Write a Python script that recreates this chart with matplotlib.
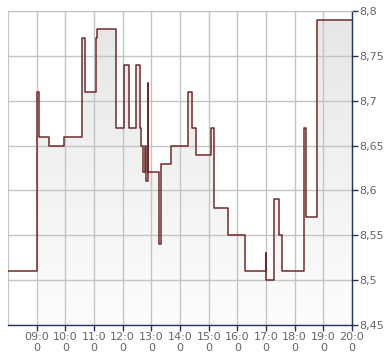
import numpy as np
import matplotlib
matplotlib.use("Agg")
import matplotlib.pyplot as plt
from matplotlib.patches import Polygon

# trade times (HH:MM) and prices, step chart
times = ["08:00", "09:01", "09:05", "09:26", "09:58", "10:35", "10:42", "11:04",
         "11:07", "11:47", "12:03", "12:13", "12:27", "12:37", "12:38", "12:43",
         "12:46", "12:49", "12:52", "12:53", "13:17", "13:21", "13:42", "14:16",
         "14:25", "14:34", "15:04", "15:12", "15:41", "16:16", "16:59", "17:00",
         "17:17", "17:27", "17:33", "18:20", "18:24", "18:47", "20:00"]
prices = [8.51, 8.71, 8.66, 8.65, 8.66, 8.77, 8.71, 8.77,
          8.78, 8.67, 8.74, 8.67, 8.74, 8.67, 8.65, 8.62,
          8.65, 8.61, 8.72, 8.62, 8.54, 8.63, 8.65, 8.71,
          8.67, 8.64, 8.67, 8.58, 8.55, 8.51, 8.53, 8.50,
          8.59, 8.55, 8.51, 8.67, 8.57, 8.79, 8.79]

x_ticks = list(range(9, 21))
x_labels = ["%02d:0\n0" % h for h in x_ticks]
y_ticks = [8.45, 8.5, 8.55, 8.6, 8.65, 8.7, 8.75, 8.8]
y_labels = ["8,45", "8,5", "8,55", "8,6", "8,65", "8,7", "8,75", "8,8"]

t = np.array([int(s[:2]) + int(s[3:]) / 60 for s in times])
p = np.array(prices)

fig = plt.figure(figsize=(3.9, 3.64), dpi=100)
ax = fig.add_axes([8 / 390, 39 / 364, 344 / 390, 314 / 364])
ax.set_xlim(8, 20)
ax.set_ylim(8.45, 8.8)

# step outline; shaded area starts at the first trade of the day
sx = np.repeat(t, 2)[1:]
sy = np.repeat(p, 2)[:-1]
fx, fy = sx[1:], sy[1:]
verts = np.column_stack([np.r_[fx, fx[-1], fx[0]], np.r_[fy, 8.45, 8.45]])
poly = Polygon(verts, closed=True, facecolor="none", edgecolor="none")
ax.add_patch(poly)
grad = np.linspace(1.0, 0.0, 256).reshape(-1, 1)
img = ax.imshow(grad, extent=[8, 20, 8.45, 8.8], aspect="auto", origin="upper",
                cmap=matplotlib.colors.LinearSegmentedColormap.from_list(
                    "g", ["#fdfdfd", "#e6e6e6"]), zorder=1)
img.set_clip_path(poly)

ax.plot(t, p, drawstyle="steps-post", color="#6e2a2a", lw=1.1, zorder=3)

ax.set_xticks(x_ticks)
ax.set_xticklabels(x_labels)
ax.set_yticks(y_ticks)
ax.set_yticklabels(y_labels)
ax.yaxis.tick_right()
ax.grid(True, color="#c4c4c4", lw=1.0)
for gl in ax.get_xgridlines() + ax.get_ygridlines():
    gl.set_zorder(2)

for side in ["top", "left"]:
    ax.spines[side].set_color("#c4c4c4")
for side in ["right", "bottom"]:
    ax.spines[side].set_color("#1f3560")
    ax.spines[side].set_linewidth(1.0)
ax.tick_params(axis="both", colors="#1f3560", length=4, width=1,
               labelcolor="#666666", labelsize=8)
ax.tick_params(axis="x", pad=1)
ax.tick_params(axis="y", pad=1)
for lbl in ax.get_xticklabels():
    lbl.set_linespacing(1.1)

fig.savefig("out.png", dpi=100)
